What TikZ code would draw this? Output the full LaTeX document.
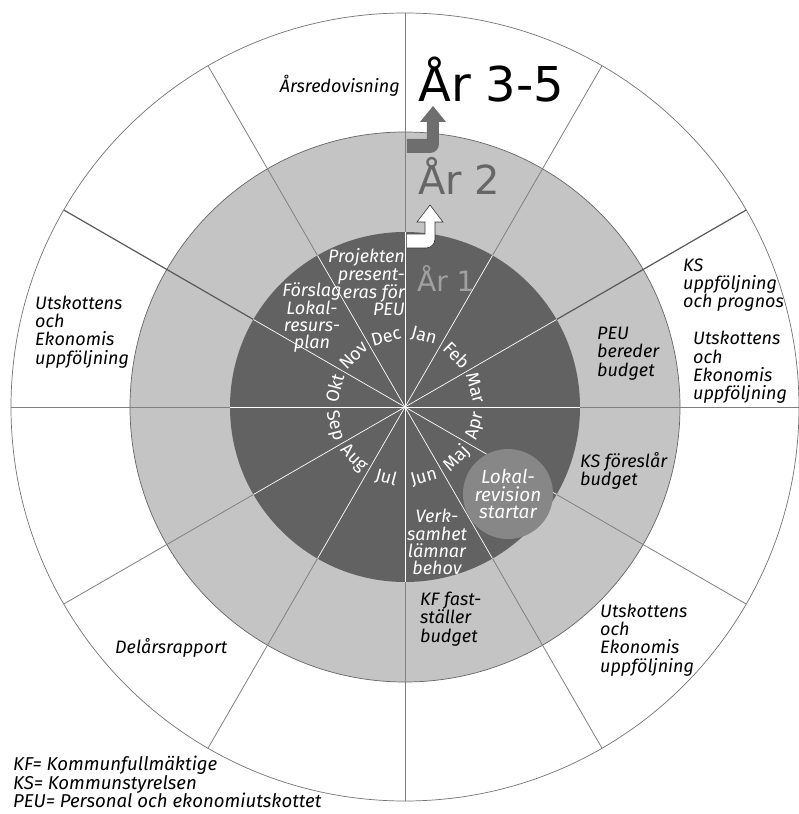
\documentclass[tikz,border=0pt]{standalone}
\usepackage{fontspec}
\setmainfont{Fira Sans}
\newfontfamily\yearfont{DejaVu Sans}
\definecolor{ringgray}{HTML}{C4C4C4}
\definecolor{darkgray}{HTML}{626262}
\definecolor{lokalgray}{HTML}{878787}
\definecolor{spokegray}{HTML}{808080}
\definecolor{argray}{HTML}{6E6E6E}
\definecolor{yrone}{HTML}{A0A0A0}
\begin{document}
\begin{tikzpicture}[x=1pt,y=1pt,
  lbl/.style={font=\fontsize{18}{18.3}\selectfont\itshape, align=left, inner sep=0pt},
  wlbl/.style={lbl, text=white, font=\fontsize{18}{17.2}\selectfont\itshape},
  month/.style={font=\fontsize{18}{18}\selectfont, text=white, inner sep=0pt},
  spoke/.style={draw=spokegray, line width=0.8pt},
  spokedark/.style={draw=black!65, line width=1.2pt},
  wspoke/.style={draw=white, line width=0.7pt},
  year/.style={inner sep=0pt, anchor=base west},
]
\useasboundingbox (-405,-407) rectangle (393,407);
\fill[white] (-405,-407) rectangle (393,407);
% rings
\draw[fill=white, draw=black!55, line width=0.7pt] (0,0) coordinate (c) circle (394);
\fill[ringgray] (c) circle (275);
\draw[black!60, line width=0.7pt] (c) circle (275);
% outer spokes
\foreach \a in {0,60,90,120,180,210,240,270,300,330}
  \draw[spoke] (\a:175) -- (\a:394);
\foreach \a in {30,150}
  \draw[spokedark] (\a:175) -- (\a:394);
% dark disc
\fill[darkgray] (c) circle (175);
\foreach \a in {0,30,...,330}
  \draw[wspoke] (c) -- (\a:175);
% Lokalrevision disc
\fill[lokalgray] (103,-87) coordinate (lc) circle (45);
% arrows
\fill[argray] (2,268) -- (22,268) -- (22,285) -- (15,285) -- (28,301) -- (41,285) -- (34,285) -- (34,263) arc (0:-90:9) -- (2,254) -- cycle;
\draw[fill=white, draw=black!80, line width=0.6pt] (2,173) -- (20,173) -- (20,185) -- (12,185) -- (25,202) -- (38,185) -- (30,185) -- (30,168) arc (0:-90:9) -- (2,159);
% years
\node[year, font=\yearfont\fontsize{48}{48}\selectfont] (y35) at (13,305) {År 3-5};
\node[year, font=\yearfont\fontsize{40}{40}\selectfont, text=black!60] (y2) at (13,212) {År 2};
\node[year, font=\yearfont\fontsize{28}{28}\selectfont, text=yrone] (y1) at (12,115) {År 1};
% months
\foreach \m/\a in {Jan/75, Feb/45, Mar/15, Dec/105, Nov/135, Okt/165}
  \node[month, rotate=\a-90] (m\m) at (\a:73) {\m};
\foreach \m/\a in {Apr/-15, Maj/-45, Jun/-75, Jul/-105, Aug/-135, Sep/-165}
  \node[month, rotate=\a+90] (m\m) at (\a:73) {\m};
% white texts in dark disc
\node[wlbl, align=right, anchor=east] (proj) at (0,124.5) {Projekten\\present-\\eras för\\PEU};
\node[wlbl, align=center] (forslag) at (-93,89.5) {Förslag\\Lokal-\\resurs-\\plan};
\node[wlbl, align=center, font=\fontsize{19}{17.5}\selectfont\itshape] (lokal) at (lc) {Lokal-\\revision\\startar};
\node[wlbl, align=center] (verk) at (32,-135) {Verk-\\samhet\\lämnar\\behov};
% ring texts
\node[lbl, anchor=west] (peu) at (192,53.5) {PEU\\bereder\\budget};
\node[lbl, anchor=west] (ksf) at (175,-64) {KS föreslår\\budget};
\node[lbl, anchor=west] (kff) at (15,-212) {KF fast-\\ställer\\budget};
% outer texts
\node[lbl, anchor=base east] (ars) at (-5,314) {Årsredovisning};
\node[lbl, anchor=west] (ul) at (-370,75) {Utskottens\\och\\Ekonomis\\uppföljning};
\node[lbl, anchor=west] (ksu) at (278,122) {KS\\uppföljning\\och prognos};
\node[lbl, anchor=west] (ur) at (288,39.5) {Utskottens\\och\\Ekonomis\\uppföljning};
\node[lbl, anchor=west] (ubr) at (195,-233) {Utskottens\\och\\Ekonomis\\uppföljning};
\node[lbl, anchor=west] (del) at (-290,-241) {Delårsrapport};
\node[lbl, anchor=west, font=\fontsize{18.6}{18.5}\selectfont\itshape] (leg) at (-392,-375) {KF= Kommunfullmäktige\\KS= Kommunstyrelsen\\PEU= Personal och ekonomiutskottet};
\end{tikzpicture}
\end{document}
